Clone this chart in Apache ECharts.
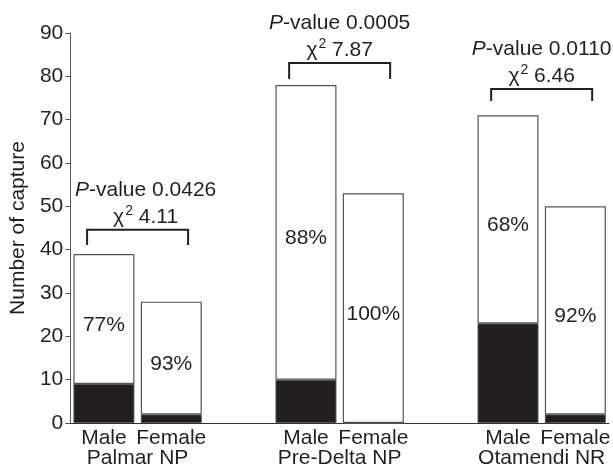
<!DOCTYPE html>
<html><head><meta charset="utf-8">
<script src="https://cdn.jsdelivr.net/npm/echarts@6/dist/echarts.min.js"></script>
<style>html,body{margin:0;padding:0;background:#fff}#c{width:613px;height:475px}</style>
</head><body><div id="c"></div>
<script>
// ---- data ----
const sites = ['Palmar NP', 'Pre-Delta NP', 'Otamendi NR'];
const sexes = ['Male', 'Female'];
const totalCaptures = [[39, 28], [78, 53], [71, 50]];
const blackCaptures = [[9, 2], [10, 0], [23, 2]];
const percentLabels = [['77%', '93%'], ['88%', '100%'], ['68%', '92%']];
const pValues = ['0.0426', '0.0005', '0.0110'];
const chiSquare = ['4.11', '7.87', '6.46'];
const bracketTop = [44.6, 83.1, 77.1];
const bracketBottom = [41.1, 79.4, 74.3];
const yMin = 0, yMax = 90, yStep = 10;

// ---- build slots (a blank slot between sites) ----
const categories = [], blackData = [], whiteData = [], pctData = [], bracketData = [], siteLabelPos = [];
sites.forEach((s, gi) => {
  if (gi > 0) { categories.push(''); blackData.push('-'); whiteData.push('-'); pctData.push(''); }
  const maleIdx = categories.length;
  sexes.forEach((sx, si) => {
    categories.push(sx);
    blackData.push(blackCaptures[gi][si]);
    whiteData.push(totalCaptures[gi][si] - blackCaptures[gi][si]);
    pctData.push(percentLabels[gi][si]);
  });
  bracketData.push([maleIdx, bracketTop[gi], bracketBottom[gi], gi]);
  siteLabelPos.push(maleIdx + 1);
});

const FONT = '"Liberation Sans", Arial, Helvetica, sans-serif';
const TXT = '#231f20';
const FS = 21;

function renderBracket(params, api) {
  const xi = api.value(0);
  const g = api.value(3);
  const top = api.coord([xi, api.value(1)]);
  const bot = api.coord([xi, api.value(2)]);
  const slotW = api.size([1, 0])[0];
  const x1 = top[0] - slotW * 0.25;
  const x2 = top[0] + slotW * 1.25;
  const cx = (x1 + x2) / 2 + (g === 0 ? 8 : 0);
  const base = { fontSize: FS, fontFamily: FONT, fill: TXT, align: 'center', verticalAlign: 'middle' };
  return {
    type: 'group',
    children: [
      { type: 'polyline', shape: { points: [[x1, bot[1]], [x1, top[1]], [x2, top[1]], [x2, bot[1]]] },
        style: { stroke: TXT, lineWidth: 2, fill: null } },
      { type: 'text', style: Object.assign({}, base, {
          x: cx, y: top[1] - 40,
          text: '{i|P}{n|-value ' + pValues[g] + '}',
          rich: {
            i: { fontSize: FS, fontFamily: FONT, fontStyle: 'italic', fill: TXT },
            n: { fontSize: FS, fontFamily: FONT, fill: TXT }
          } }) },
      { type: 'text', style: Object.assign({}, base, {
          x: cx, y: top[1] - 14,
          text: '{c|χ}{s|2}{n| ' + chiSquare[g] + '}',
          rich: {
            c: { fontSize: FS, fontFamily: FONT, fill: TXT, lineHeight: 24, verticalAlign: 'bottom' },
            s: { fontSize: 14, fontFamily: FONT, fill: TXT, lineHeight: 14, verticalAlign: 'top', padding: [0, 0, 0, 1] },
            n: { fontSize: FS, fontFamily: FONT, fill: TXT, lineHeight: 24, verticalAlign: 'bottom' }
          } }) }
    ]
  };
}

const chart = echarts.init(document.getElementById('c'), null, { renderer: 'canvas' });
chart.setOption({
  animation: false,
  backgroundColor: '#fff',
  textStyle: { fontFamily: FONT, color: TXT },
  grid: { left: 68.5, right: 0, top: 33, bottom: 52, containLabel: false },
  xAxis: [
    {
      type: 'category', data: categories, position: 'bottom',
      axisLine: { show: true, lineStyle: { color: '#333', width: 1.2 } },
      axisTick: { show: false },
      axisLabel: { color: TXT, fontSize: FS, fontFamily: FONT, margin: 5, interval: 0 }
    },
    {
      type: 'value', min: 0, max: categories.length, position: 'bottom',
      axisLine: { show: false }, axisTick: { show: false }, splitLine: { show: false },
      axisLabel: {
        color: TXT, fontSize: FS, fontFamily: FONT, margin: 25,
        customValues: siteLabelPos,
        formatter: v => sites[siteLabelPos.indexOf(v)] || ''
      }
    }
  ],
  yAxis: {
    type: 'value', min: yMin, max: yMax, interval: yStep,
    name: 'Number of capture', nameLocation: 'middle', nameGap: 33,
    nameTextStyle: { color: TXT, fontSize: FS, fontFamily: FONT },
    axisLine: { show: true, lineStyle: { color: '#555', width: 1 } },
    axisTick: { show: true, length: 5, lineStyle: { color: '#555' } },
    axisLabel: { color: TXT, fontSize: FS, fontFamily: FONT, margin: 7 },
    splitLine: { show: false }
  },
  series: [
    {
      type: 'bar', stack: 'cap', data: blackData, barWidth: 61,
      itemStyle: { color: '#231f20', borderColor: '#555', borderWidth: 1 }
    },
    {
      type: 'bar', stack: 'cap', data: whiteData, barWidth: 61,
      itemStyle: { color: '#fff', borderColor: '#555', borderWidth: 1.2 },
      label: {
        show: true, position: 'inside', offset: [0, 6],
        color: TXT, fontSize: FS, fontFamily: FONT,
        formatter: p => pctData[p.dataIndex]
      }
    },
    {
      type: 'custom', data: bracketData, renderItem: renderBracket, clip: false, z: 5
    }
  ]
});
</script></body></html>
